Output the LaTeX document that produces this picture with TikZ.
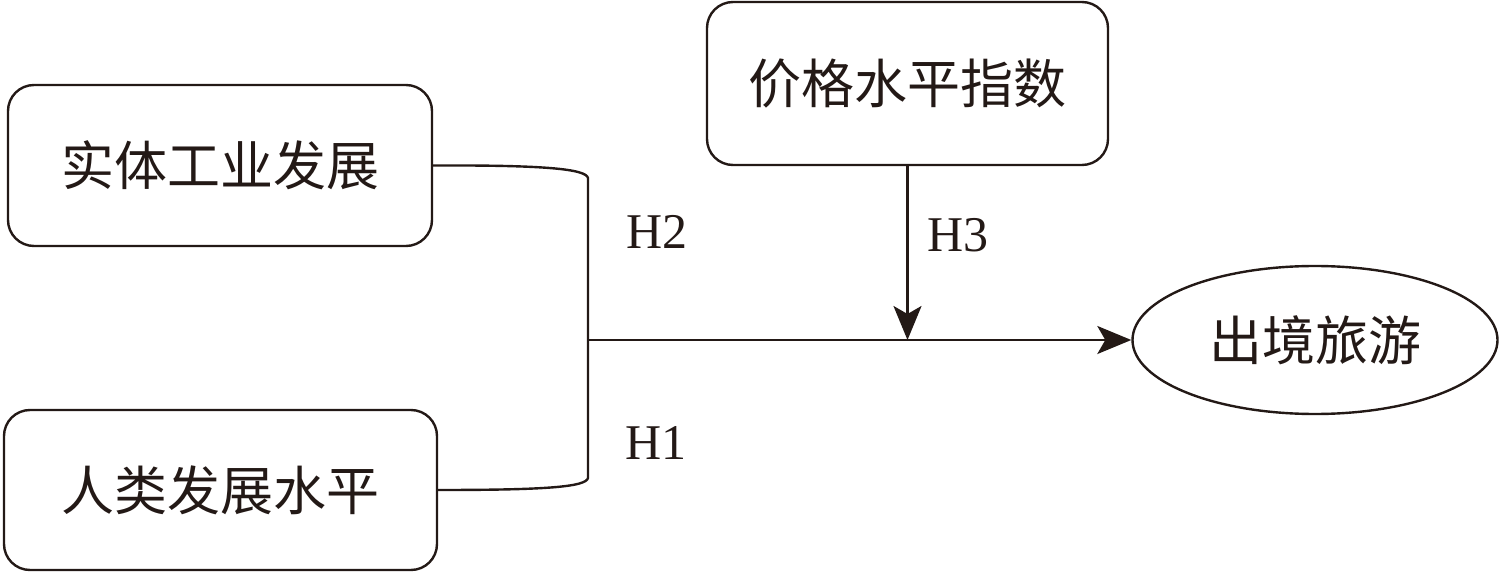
\documentclass[tikz,border=0pt]{standalone}
\usepackage{fontspec}
\setmainfont{Liberation Serif}
\newfontfamily\cjk{Noto Sans CJK SC}
\usetikzlibrary{arrows.meta,shapes.geometric}
\definecolor{ink}{RGB}{35,25,22}
\begin{document}
\begin{tikzpicture}[x=1pt,y=-1pt,
  ln/.style={draw=ink,line width=2.4pt},
  boxnode/.style={ln,rectangle,rounded corners=26pt,inner sep=0pt,font=\cjk\fontsize{53}{58}\selectfont,text=ink},
  arr/.style={ln,-{Stealth[length=34pt,width=28pt,inset=8pt]}},
  hlab/.style={font=\fontsize{50}{56}\selectfont,text=ink,inner sep=0pt}]
\useasboundingbox (0,0) rectangle (1500,572);
\node[boxnode,minimum width=424pt,minimum height=161pt] (b1) at (220,165.5) {实体工业发展};
\node[boxnode,minimum width=433pt,minimum height=160pt] (b2) at (220.5,490) {人类发展水平};
\node[boxnode,minimum width=401pt,minimum height=163pt] (b3) at (907.5,83.5) {价格水平指数};
\node[ln,ellipse,inner sep=0pt,minimum width=365pt,minimum height=148pt,font=\cjk\fontsize{53}{58}\selectfont,text=ink] (out) at (1315,340) {出境旅游};
\coordinate (t) at (588,178);
\coordinate (bt) at (588,478);
\coordinate (m) at (588,340);
\coordinate (h) at (907.5,340);
\draw[ln] (b1.east) .. controls (545,165) and (586,169) .. (t) -- (bt) .. controls (586,487) and (545,490) .. (b2.east);
\draw[arr] (m) -- (out.west);
\draw[arr] (b3.south) -- (h);
\node[hlab] (h2) at (657,232) {H2};
\node[hlab] (h3) at (958,235) {H3};
\node[hlab] (h1) at (656,443) {H1};
\end{tikzpicture}
\end{document}
